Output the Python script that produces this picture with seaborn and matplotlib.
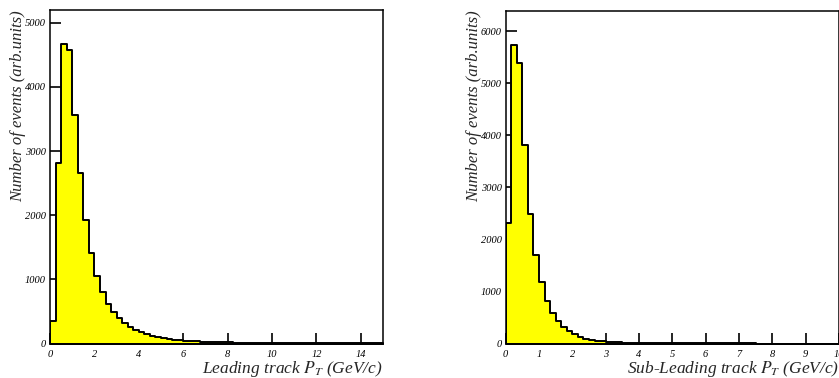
import numpy as np
import pandas as pd
import matplotlib
matplotlib.use("Agg")
import matplotlib.pyplot as plt
import seaborn as sns

# Leading track pT: 60 bins of 0.25 GeV/c over 0-15
lead_edges = np.linspace(0, 15, 61)
lead_counts = [350, 2810, 4670, 4580, 3560, 2660, 1920, 1410, 1060, 800,
               620, 490, 390, 315, 265, 210, 175, 145, 122, 102,
               84, 72, 61, 52, 45, 39, 34, 30, 26, 23,
               20, 18, 16, 14, 12, 11, 10, 9, 8, 7,
               6, 6, 5, 5, 4, 4, 4, 3, 3, 3,
               3, 2, 2, 2, 2, 2, 2, 1, 1, 1]

# Sub-leading track pT: 60 bins of 1/6 GeV/c over 0-10
sub_edges = np.linspace(0, 10, 61)
sub_counts = [2310, 5740, 5380, 3810, 2490, 1690, 1175, 825, 595, 440,
              325, 240, 175, 130, 95, 72, 55, 44, 35, 28,
              22, 18, 14, 11, 9, 7, 6, 5, 4, 3,
              3, 2, 2, 2, 1, 1, 1, 1, 1, 1,
              1, 1, 1, 1, 1, 0, 0, 0, 0, 0,
              0, 0, 0, 0, 0, 0, 0, 0, 0, 0]

lead_ticks = [0, 2, 4, 6, 8, 10, 12, 14]
sub_ticks = [0, 1, 2, 3, 4, 5, 6, 7, 8, 9, 10]
lead_yticks = [0, 1000, 2000, 3000, 4000, 5000]
sub_yticks = [0, 1000, 2000, 3000, 4000, 5000, 6000]

sns.set_style("ticks")
plt.rcParams["font.family"] = ["Liberation Serif", "DejaVu Serif"]
plt.rcParams["mathtext.fontset"] = "stix"

fig = plt.figure(figsize=(8.39, 3.78), dpi=100)
ax1 = fig.add_axes([50 / 839, 1 - 343.5 / 378, 333 / 839, 333.5 / 378])
ax2 = fig.add_axes([505.7 / 839, 1 - 343.5 / 378, 333.3 / 839, 332.8 / 378])


def draw(ax, edges, counts, xmax, ymax, xticks, yticks, xlabel):
    centers = 0.5 * (edges[:-1] + edges[1:])
    df = pd.DataFrame({"pt": centers, "n": counts})
    sns.histplot(data=df, x="pt", weights="n", bins=[float(e) for e in edges],
                 element="step", fill=True, facecolor="#ffff00",
                 edgecolor="black", linewidth=1.4, alpha=1.0, ax=ax)
    ax.set_xlim(0, xmax)
    ax.set_ylim(0, ymax)
    ax.set_xticks(xticks)
    ax.set_yticks(yticks)
    ax.set_xticklabels([str(t) for t in xticks], fontstyle="italic", fontsize=7.5)
    ax.set_yticklabels([str(t) for t in yticks], fontstyle="italic", fontsize=7.5)
    ax.tick_params(axis="both", direction="in", length=8, width=1.2,
                   colors="black", pad=3)
    ax.tick_params(axis="x", pad=5)
    for s in ax.spines.values():
        s.set_linewidth(1.1)
        s.set_color("black")
    ax.set_xlabel(xlabel, fontsize=12.5, fontstyle="italic", loc="right",
                  labelpad=0)
    ax.set_ylabel("Number of events (arb.units)", fontsize=12,
                  fontstyle="italic", loc="top", labelpad=-1)


draw(ax1, lead_edges, lead_counts, 15, 5200, lead_ticks, lead_yticks,
     r"Leading track $P_T$ (GeV/c)")
draw(ax2, sub_edges, sub_counts, 10, 6390, sub_ticks, sub_yticks,
     r"Sub-Leading track $P_T$ (GeV/c)")

fig.savefig("out.png", dpi=100)
